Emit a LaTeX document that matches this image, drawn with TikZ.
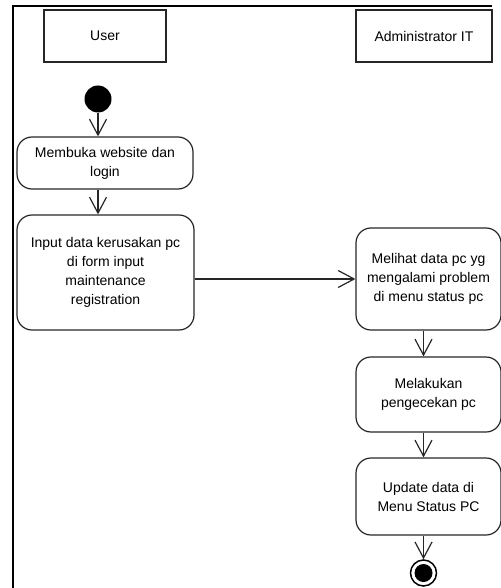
\documentclass[tikz,border=0pt]{standalone}
\usepackage{fontspec}
\setmainfont{Liberation Sans}
\usetikzlibrary{arrows.meta}
\begin{document}
\begin{tikzpicture}[x=1pt,y=-1pt,
  lane/.style={draw=black, line width=2pt},
  hdr/.style={draw=black!85, line width=1.2pt, minimum height=52pt, font=\fontsize{14}{19}\selectfont, inner sep=0pt},
  act/.style={draw=black!85, line width=1.2pt, rounded corners=15pt, align=center, font=\fontsize{14}{19}\selectfont, inner sep=0pt},
  flow/.style={draw=black!85, line width=1.2pt, -{Straight Barb[length=16pt,width=17pt,line width=1.2pt]}},
]
\useasboundingbox (0,0) rectangle (500,588);
\draw[lane] (13,590) -- (13,6) -- (492,6);
\node[hdr, minimum width=122pt] (user) at (105,36) {User};
\node[hdr, minimum width=136pt] (admin) at (424,36) {Administrator IT};
\node[circle, fill=black, minimum size=27pt, inner sep=0pt] (init) at (98,99) {};
\node[act, minimum width=176pt, minimum height=52pt] (b1) at (105,163) {Membuka website dan\\login};
\node[act, minimum width=177pt, minimum height=115pt] (b2) at (105.5,272.5) {Input data kerusakan pc\\di form input\\maintenance\\registration};
\node[act, minimum width=145pt, minimum height=102pt] (b3) at (428.5,279) {Melihat data pc yg\\mengalami problem\\di menu status pc};
\node[act, minimum width=145pt, minimum height=75pt] (b4) at (428.5,394.5) {Melakukan\\pengecekan pc};
\node[act, minimum width=145pt, minimum height=77pt] (b5) at (428.5,496.5) {Update data di\\Menu Status PC};
\node[circle, draw=black, line width=1.5pt, minimum size=26pt, inner sep=0pt] (fin) at (423.5,573) {};
\fill[black] (fin.center) circle (9pt);
\draw[flow] (init) -- (init |- b1.north);
\draw[flow] (b1.south -| init) -- (b2.north -| init);
\draw[flow] (b2.east |- b3.west) -- (b3.west);
\draw[flow] (b3.south -| fin) -- (b4.north -| fin);
\draw[flow] (b4.south -| fin) -- (b5.north -| fin);
\draw[flow] (b5.south -| fin) -- (fin);
\end{tikzpicture}
\end{document}
